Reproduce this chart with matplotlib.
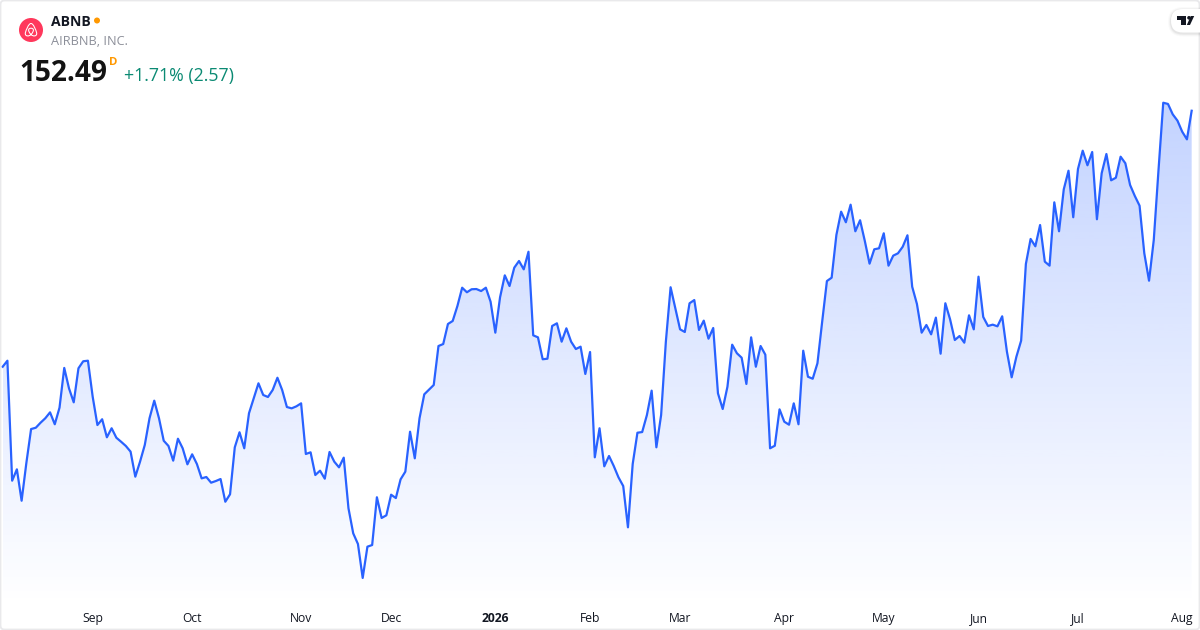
import numpy as np
import matplotlib
matplotlib.use("Agg")
import matplotlib.pyplot as plt
from matplotlib.patches import Circle, FancyBboxPatch, PathPatch, Polygon
from matplotlib.path import Path

plt.rcParams['font.family'] = ['Open Sans', 'Noto Sans', 'DejaVu Sans']

ticker = "ABNB"
company = "AIRBNB, INC."
last_price = "152.49"
change_text = "+1.71% (2.57)"

prices = [
    129.49, 130.03, 119.25, 120.27, 117.45, 120.84, 123.89, 124.01, 124.46, 124.86,
    125.39, 124.32, 125.81, 129.38, 127.55, 126.29, 129.35, 129.98, 130.03, 126.80,
    124.25, 124.77, 123.15, 123.96, 123.11, 122.75, 122.37, 121.86, 119.61, 120.96,
    122.46, 124.86, 126.44, 124.86, 122.84, 122.37, 121.05, 123.02, 122.16, 120.72,
    121.62, 120.75, 119.46, 119.58, 119.07, 119.22, 119.40, 117.36, 118.03, 122.25,
    123.60, 122.16, 125.31, 126.65, 128.00, 126.95, 126.77, 127.40, 128.50, 127.40,
    125.87, 125.75, 125.93, 126.20,
    121.65, 121.80, 119.76, 120.15, 119.43, 121.83, 120.96, 120.45, 121.32, 116.77,
    114.52, 113.56, 110.51, 113.32, 113.47, 117.76, 115.90, 116.14, 117.99, 117.69,
    119.37, 120.06, 123.65, 121.26, 124.86, 127.01, 127.43, 127.85, 131.35, 131.53,
    133.33, 133.60, 134.95, 136.59, 136.18, 136.45, 136.47, 136.29, 136.59, 135.33,
    132.55, 135.73, 137.70, 136.74, 138.39, 138.99, 138.24, 139.82, 132.31, 132.13,
    130.16, 130.21, 133.15, 133.39, 131.74, 132.94, 131.74, 131.08, 131.29, 128.84,
    130.81, 121.35, 123.96,
    120.54, 121.47, 120.57, 119.55, 118.77, 115.06, 120.75, 123.56, 123.62, 125.15,
    127.34, 122.25, 125.15, 131.74, 136.63, 134.74, 132.85, 132.61, 135.19, 135.48,
    132.79, 133.63, 132.01, 132.97, 127.10, 125.69, 127.69, 131.47, 130.70, 130.30,
    127.94, 132.13, 129.49, 131.35, 130.57, 122.16, 122.39, 125.66, 124.55, 124.28,
    126.20, 124.32, 130.93, 128.59, 128.41, 129.80,
    133.54, 137.19, 137.49, 141.33, 143.42, 142.47, 144.05, 141.66, 142.65, 140.79,
    138.75, 140.04, 140.13, 141.48, 138.57, 139.47, 139.68, 140.27, 141.30, 136.68,
    135.13, 132.55, 133.24, 132.40, 133.90, 130.66, 135.19, 133.75, 131.89, 132.25,
    131.65, 134.11, 132.85, 137.58, 133.96, 133.15, 133.27, 133.12, 134.02, 130.84,
    128.54, 130.39, 131.83, 138.72, 140.97, 140.31, 142.22,
    138.93, 138.57, 144.26, 141.66, 145.43, 147.10, 142.92, 147.26, 148.90, 147.59,
    148.78, 142.74, 146.87, 148.60, 146.24, 146.47, 148.36, 147.77, 145.82, 144.83,
    143.96, 139.68, 137.22, 140.88, 147.17, 153.21, 153.10, 152.17, 151.60, 150.61,
    149.92, 152.49,
]
tick_positions = [19, 40, 63, 82, 104, 124, 143, 165, 186, 206, 227, 249]
tick_labels = ["Sep", "Oct", "Nov", "Dec", "2026", "Feb", "Mar", "Apr", "May", "Jun", "Jul", "Aug"]

W, H = 1200, 630
LINE = "#2962FF"
x = np.arange(len(prices))
y = np.array(prices)

fig = plt.figure(figsize=(W / 100, H / 100), dpi=100, facecolor="white")
ax = fig.add_axes([0, 0, 1, 1])
px0, px1 = 2.67, 1191.67
step = (px1 - px0) / (len(prices) - 1)
ax.set_xlim(-px0 / step, (W - px0) / step)
ax.set_ylim(162.44 - 0.08985 * H, 162.44)
for s in ax.spines.values():
    s.set_visible(False)
ax.set_yticks([])
ax.set_xticks(tick_positions, tick_labels)
ax.tick_params(axis="x", length=0, pad=-13, labelsize=8.7, labelcolor="#131722")
for lab in ax.get_xticklabels():
    if lab.get_text() == "2026":
        lab.set_fontweight("bold")

# gradient fill under the line
bottom_price = 162.44 - 0.08985 * 606
top_price = 162.44 - 0.08985 * 102
rgba = np.zeros((256, 1, 4))
rgba[..., 0] = 41 / 255
rgba[..., 1] = 98 / 255
rgba[..., 2] = 1.0
rgba[..., 3] = np.linspace(0.28, 0.0, 256)[:, None]
img = ax.imshow(rgba, extent=[x[0], x[-1], bottom_price, top_price], aspect="auto",
                origin="upper", interpolation="bilinear", zorder=1)
ax.set_xlim(-px0 / step, (W - px0) / step)
ax.set_ylim(162.44 - 0.08985 * H, 162.44)
clip = Path(np.vstack([np.column_stack([x, y]), [x[-1], bottom_price], [x[0], bottom_price]]))
img.set_clip_path(clip, transform=ax.transData)
ax.plot(x, y, color=LINE, lw=1.6, solid_joinstyle="round", zorder=2)

# overlay in pixel coordinates for header furniture
ov = fig.add_axes([0, 0, 1, 1], facecolor="none")
ov.set_xlim(0, W)
ov.set_ylim(H, 0)
ov.axis("off")

ov.add_patch(FancyBboxPatch((0.5, 0.5), W - 1, H - 1, boxstyle="round,pad=0,rounding_size=4",
                            fc="none", ec="#E9E9EB", lw=1.3))

# logo
ov.add_patch(Circle((31, 30), 12, fc="#FF385C", ec="none"))
bx, by = 31, 30
M, C = Path.MOVETO, Path.CURVE4
verts = [(bx, by + 4.5), (bx - 1.6, by + 3), (bx - 2.4, by + 1.2), (bx - 2.4, by),
         (bx - 2.4, by - 2.4), (bx + 2.4, by - 2.4), (bx + 2.4, by),
         (bx + 2.4, by + 1.2), (bx + 1.6, by + 3), (bx, by + 4.5),
         (bx + 2, by + 6.8), (bx + 6.5, by + 6.5), (bx + 5.6, by + 2.6),
         (bx + 4.8, by), (bx + 2.5, by - 6.5), (bx, by - 6.5),
         (bx - 2.5, by - 6.5), (bx - 4.8, by), (bx - 5.6, by + 2.6),
         (bx - 6.5, by + 6.5), (bx - 2, by + 6.8), (bx, by + 4.5)]
codes = [M] + [C] * 21
ov.add_patch(PathPatch(Path(verts, codes), fc="none", ec="white", lw=0.75))

# texts
ov.text(51, 26, ticker, fontsize=10.1, fontweight="bold", color="#131722", va="baseline")
ov.add_patch(Circle((97, 20.5), 3, fc="#FF9800", ec="none"))
ov.text(51, 45, company, fontsize=9.2, color="#8C8F99", va="baseline")
ov.text(19.5, 81, last_price, fontsize=20.2, fontweight="bold", color="#131313", va="baseline")
ov.text(109.5, 65.3, "D", fontsize=8.2, fontweight="bold", color="#FF9800", va="baseline")
ov.text(124, 81, change_text, fontsize=12.8, color="#0B8A73", va="baseline")

# watermark pill with a soft shadow
for grow, alpha in [(3, 0.02), (2, 0.03), (1, 0.05)]:
    ov.add_patch(FancyBboxPatch((1171 - grow, 9 - grow + 1), 60, 23.5 + 2 * grow,
                                boxstyle="round,pad=0,rounding_size=%g" % (11.7 + grow),
                                fc="black", alpha=alpha, ec="none"))
ov.add_patch(FancyBboxPatch((1171, 9), 60, 23.5, boxstyle="round,pad=0,rounding_size=11.7",
                            fc="white", ec="none"))
ov.add_patch(Polygon([(1177.3, 16), (1186.3, 16), (1186.3, 25), (1181.4, 25), (1181.4, 19.6), (1177.3, 19.6)],
                     fc="#131722", ec="none"))
ov.add_patch(Circle((1189, 17.8), 1.8, fc="#131722", ec="none"))
ov.add_patch(Polygon([(1190, 25), (1194.2, 16), (1190.8, 16), (1186.8, 25)], fc="#131722", ec="none"))

fig.savefig("out.png", dpi=100, facecolor="white")
